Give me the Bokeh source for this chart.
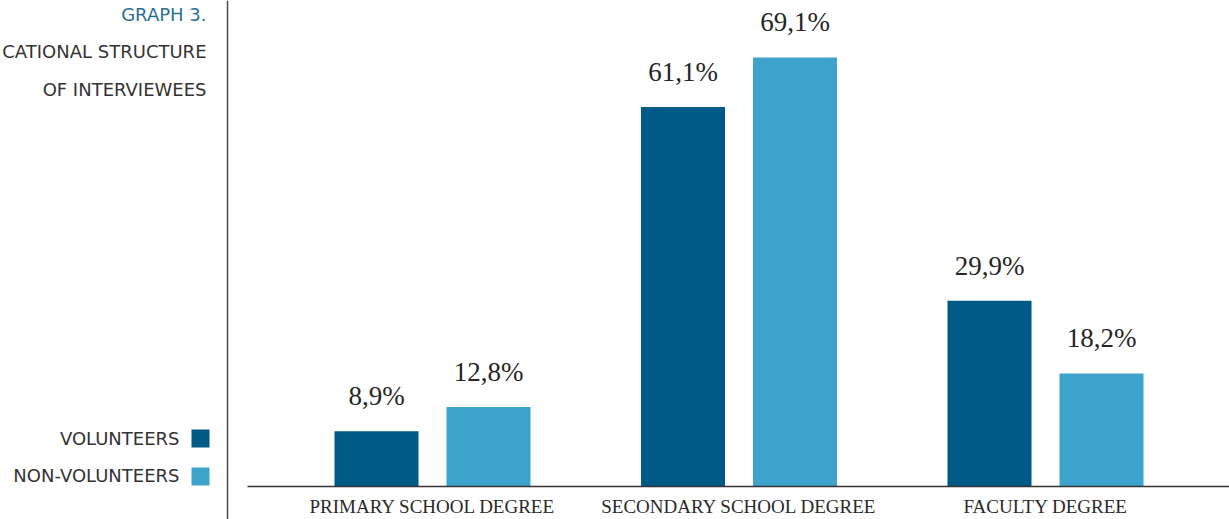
from bokeh.plotting import figure
from bokeh.models import Range1d, ColumnDataSource, Span
from bokeh.transform import dodge
from bokeh.core.properties import value
from bokeh.embed import file_html
from bokeh.resources import INLINE

# ---------------- data ----------------
categories = ["PRIMARY SCHOOL DEGREE", "SECONDARY SCHOOL DEGREE", "FACULTY DEGREE"]
series_names = ["VOLUNTEERS", "NON-VOLUNTEERS"]
volunteers = [8.9, 61.1, 29.9]
non_volunteers = [12.8, 69.1, 18.2]
series_colors = ["#005a88", "#3ea3cc"]
title_lines = ["GRAPH 3.", "CATIONAL STRUCTURE", "OF INTERVIEWEES"]


def fmt(v):
    return ("%.1f" % v).replace(".", ",") + "%"


W, H = 1229, 519
GROUP_PX = 306.5          # pixels between category centres
FIRST_PX = 432            # pixel of first category centre
BASE_PX = 486             # pixel row of the zero line
PCT_PX = 6.21             # pixels per percent

x_start = -FIRST_PX / GROUP_PX
x_end = x_start + W / GROUP_PX
y_start = -(H - BASE_PX) / PCT_PX
y_end = BASE_PX / PCT_PX


def px2x(px):
    return x_start + px / GROUP_PX


def py2y(py):
    return (BASE_PX - py) / PCT_PX


TEXT_DARK = "#262626"
SANS = "DejaVu Sans"
SERIF = "Liberation Serif"

p = figure(width=W, height=H, x_range=Range1d(x_start, x_end), y_range=Range1d(y_start, y_end),
           output_backend="svg", toolbar_location=None,
           x_axis_location=None, y_axis_location=None,
           min_border=0, min_border_left=0, min_border_right=0,
           min_border_top=0, min_border_bottom=0)
p.grid.visible = False
p.outline_line_color = None
p.background_fill_color = "white"
p.border_fill_color = "white"

# ---------------- left panel: title ----------------
title_src = ColumnDataSource(dict(x=[px2x(206)] * 3, y=[py2y(14), py2y(51), py2y(89)],
                                  t=title_lines, c=["#2d6e95", "#333333", "#333333"]))
p.text(x="x", y="y", text="t", source=title_src, text_color="c",
       text_align="right", text_baseline="middle",
       text_font=value(SANS), text_font_size="18px")

# ---------------- left panel: legend ----------------
leg_src = ColumnDataSource(dict(tx=[px2x(179)] * 2, ty=[py2y(438), py2y(475)],
                                sx=[px2x(200)] * 2, sy=[py2y(438), py2y(476)],
                                t=series_names, c=series_colors))
p.text(x="tx", y="ty", text="t", source=leg_src, text_color="#333333",
       text_align="right", text_baseline="middle",
       text_font=value(SANS), text_font_size="18px")
p.rect(x="sx", y="sy", width=18, height=18, width_units="screen", height_units="screen",
       source=leg_src, fill_color="c", line_color=None)

# vertical divider
p.add_layout(Span(location=px2x(227), dimension="height", line_color="#4a4a4a", line_width=1.5))

# ---------------- bars ----------------
src = ColumnDataSource(dict(x=list(range(len(categories))), v=volunteers, nv=non_volunteers,
                            vl=[fmt(a) for a in volunteers], nvl=[fmt(a) for a in non_volunteers],
                            cat=categories, zero=[0] * len(categories)))

off = 56 / GROUP_PX
bw = 84 / GROUP_PX
p.vbar(x=dodge("x", -off, range=p.x_range), top="v", width=bw, source=src,
       fill_color=series_colors[0], line_color=None)
p.vbar(x=dodge("x", off, range=p.x_range), top="nv", width=bw, source=src,
       fill_color=series_colors[1], line_color=None)
p.text(x=dodge("x", -off, range=p.x_range), y="v", text="vl", source=src,
       y_offset=-35, text_align="center", text_baseline="alphabetic",
       text_font=value(SERIF), text_font_size="27px", text_color=TEXT_DARK)
p.text(x=dodge("x", off, range=p.x_range), y="nv", text="nvl", source=src,
       y_offset=-35, text_align="center", text_baseline="alphabetic",
       text_font=value(SERIF), text_font_size="27px", text_color=TEXT_DARK)

# ---------------- baseline + category labels ----------------
p.segment(x0=px2x(247), y0=0, x1=x_end, y1=0, line_color="#333333", line_width=1.5)
p.text(x="x", y="zero", text="cat", source=src, y_offset=20,
       text_align="center", text_baseline="alphabetic",
       text_font=value(SERIF), text_font_size="19px", text_color="#2a2a2a")

open("out.html", "w").write(file_html(p, INLINE))
